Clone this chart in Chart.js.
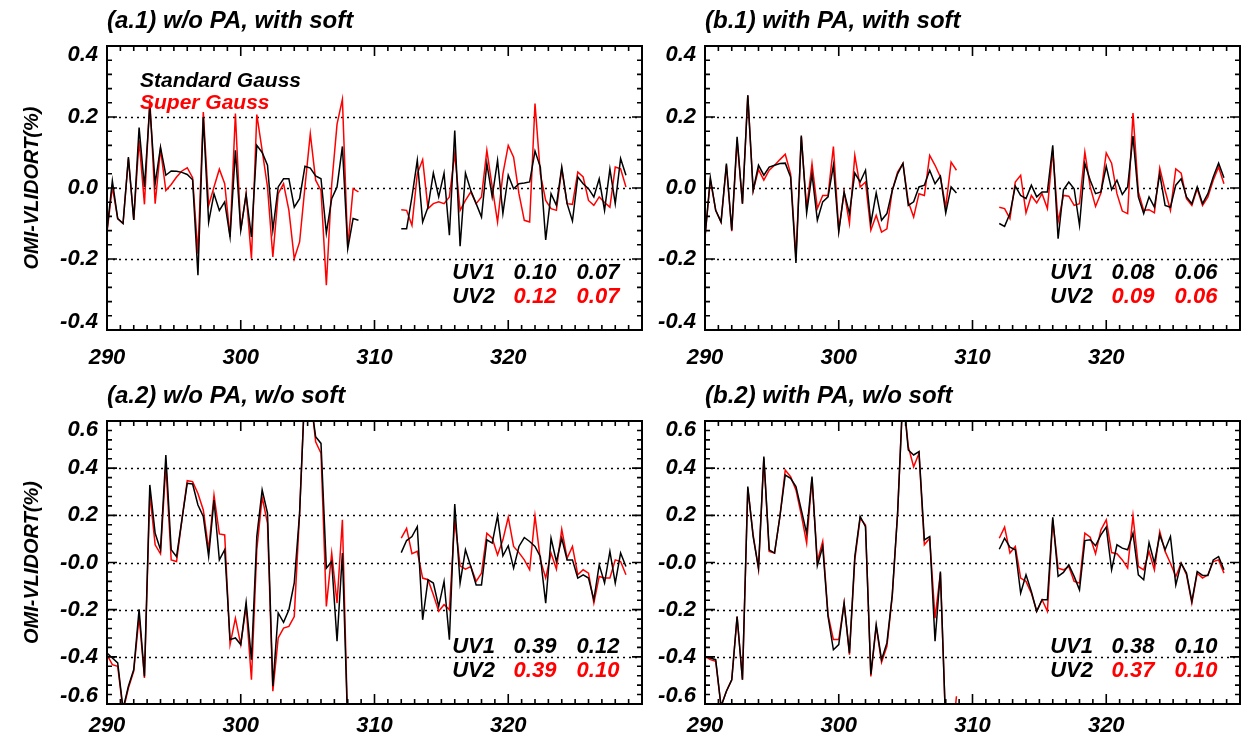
<!DOCTYPE html>
<html>
<head>
<meta charset="utf-8">
<script src="https://cdn.jsdelivr.net/npm/chart.js@4.4.1/dist/chart.umd.min.js"></script>
<style>
  html, body { margin: 0; padding: 0; background: #fff; }
  #wrap { position: relative; width: 1243px; height: 744px; overflow: hidden; background: #fff; }
  canvas { position: absolute; }
</style>
</head>
<body>
<div id="wrap">
  <canvas id="a1" width="645" height="372" style="left:0;top:0"></canvas>
  <canvas id="b1" width="643" height="372" style="left:600px;top:0"></canvas>
  <canvas id="a2" width="645" height="372" style="left:0;top:372px"></canvas>
  <canvas id="b2" width="643" height="372" style="left:600px;top:372px"></canvas>
</div>
<script>
// wavelengths (nm) of the two OMI channels
const wlUV1 = [290.0, 290.4, 290.8, 291.2, 291.6, 292.0, 292.4, 292.8, 293.2, 293.6, 294.0, 294.4,
  294.8, 295.2, 295.6, 296.0, 296.4, 296.8, 297.2, 297.6, 298.0, 298.4, 298.8, 299.2, 299.6, 300.0,
  300.4, 300.8, 301.2, 301.6, 302.0, 302.4, 302.8, 303.2, 303.6, 304.0, 304.4, 304.8, 305.2, 305.6,
  306.0, 306.4, 306.8, 307.2, 307.6, 308.0, 308.4, 308.8];
const wlUV2 = [312.0, 312.4, 312.8, 313.2, 313.6, 314.0, 314.4, 314.8, 315.2, 315.6, 316.0, 316.4,
  316.8, 317.2, 317.6, 318.0, 318.4, 318.8, 319.2, 319.6, 320.0, 320.4, 320.8, 321.2, 321.6, 322.0,
  322.4, 322.8, 323.2, 323.6, 324.0, 324.4, 324.8, 325.2, 325.6, 326.0, 326.4, 326.8, 327.2, 327.6,
  328.0, 328.4, 328.8];

// (a.1) w/o PA, with soft
const a1Std1 = [-0.12, 0.02, -0.086, -0.10, 0.087, -0.09, 0.17, 0.003, 0.23, 0.012, 0.115, 0.036, 0.048, 0.047, 0.044, 0.038, 0.023, -0.246, 0.20, -0.096, -0.016, -0.063, -0.039, -0.138, 0.106, -0.119, -0.018, -0.138, 0.12, 0.10, 0.064, -0.119, 0.003, 0.026, 0.026, -0.054, -0.03, 0.061, 0.056, 0.034, 0.026, -0.127, -0.03, 0.003, 0.117, -0.171, -0.086, -0.091];
const a1Sup1 = [-0.125, 0.003, -0.086, -0.10, 0.083, -0.09, 0.134, -0.046, 0.25, -0.044, 0.11, -0.007, 0.01, 0.031, 0.048, 0.057, 0.029, -0.185, 0.214, -0.049, 0.003, 0.053, 0.012, -0.138, 0.21, -0.119, -0.016, -0.199, 0.207, 0.106, 0.003, -0.194, -0.016, 0.012, -0.063, -0.199, -0.152, 0.003, 0.153, 0.022, -0.007, -0.274, 0.01, 0.18, 0.25, -0.166, -0.002, -0.011];
const a1Std2 = [-0.115, -0.115, -0.025, 0.078, -0.096, -0.054, 0.042, -0.025, 0.042, -0.133, 0.162, -0.164, 0.042, -0.007, -0.044, -0.082, 0.069, -0.025, 0.078, -0.072, 0.036, -0.002, 0.012, 0.014, 0.017, 0.104, 0.059, -0.146, -0.016, -0.049, 0.059, -0.044, -0.093, 0.031, 0.012, -0.002, -0.025, 0.026, -0.063, 0.054, -0.044, 0.083, 0.036];
const a1Sup2 = [-0.061, -0.063, -0.105, 0.04, 0.08, -0.058, -0.044, -0.039, -0.044, -0.025, 0.097, -0.063, -0.035, -0.011, -0.044, -0.025, 0.106, 0.003, -0.096, 0.04, 0.12, 0.087, -0.016, -0.091, -0.096, 0.238, 0.04, -0.035, -0.058, -0.063, 0.054, -0.044, -0.046, 0.045, 0.031, -0.035, -0.049, -0.025, -0.041, -0.054, 0.059, 0.054, 0.003];

// (b.1) with PA, with soft
const b1Std1 = [-0.138, 0.029, -0.063, -0.096, 0.069, -0.119, 0.144, -0.044, 0.261, -0.007, 0.064, 0.036, 0.059, 0.064, 0.069, 0.070, 0.031, -0.211, 0.148, -0.070, 0.040, -0.091, -0.039, -0.025, 0.064, -0.124, -0.011, -0.072, 0.042, 0.017, 0.050, -0.100, -0.014, -0.091, -0.072, -0.007, 0.040, 0.069, -0.049, -0.039, 0.003, 0.008, 0.050, 0.012, 0.033, -0.070, 0.003, -0.014];
const b1Sup1 = [-0.138, 0.022, -0.063, -0.096, 0.064, -0.122, 0.134, -0.044, 0.261, -0.007, 0.052, 0.022, 0.050, 0.064, 0.080, 0.095, 0.040, -0.194, 0.144, -0.058, 0.069, -0.058, -0.021, -0.021, 0.117, -0.119, -0.011, -0.100, 0.092, 0.003, 0.017, -0.119, -0.077, -0.124, -0.115, -0.007, 0.045, 0.069, -0.039, -0.082, -0.016, -0.021, 0.092, 0.064, 0.031, -0.054, 0.073, 0.050];
const b1Std2 = [-0.100, -0.108, -0.072, 0.005, -0.021, -0.030, 0.008, -0.025, -0.011, -0.011, 0.120, -0.143, -0.005, 0.017, -0.002, -0.105, 0.069, 0.022, -0.016, -0.011, 0.061, -0.005, 0.022, -0.018, 0.003, 0.146, -0.025, -0.072, -0.025, -0.054, 0.040, -0.049, -0.054, 0.008, 0.026, -0.025, -0.044, 0.003, -0.044, -0.016, 0.031, 0.070, 0.029];
const b1Sup2 = [-0.054, -0.058, -0.086, 0.017, 0.036, -0.070, -0.021, -0.042, -0.016, -0.058, 0.106, -0.096, -0.021, -0.023, -0.049, -0.044, 0.101, 0.003, -0.052, -0.014, 0.099, 0.070, -0.016, -0.065, -0.072, 0.211, -0.011, -0.063, -0.061, -0.070, 0.056, -0.007, -0.063, 0.054, 0.042, -0.030, -0.049, -0.002, -0.049, -0.025, 0.022, 0.059, 0.012];

// (a.2) w/o PA, w/o soft
const a2Std1 = [-0.384, -0.405, -0.426, -0.62, -0.525, -0.454, -0.198, -0.483, 0.329, 0.124, 0.054, 0.456, 0.054, 0.025, 0.181, 0.336, 0.333, 0.244, 0.195, 0.025, 0.265, 0.011, 0.054, -0.327, -0.32, -0.348, -0.169, -0.412, 0.11, 0.308, 0.209, -0.525, -0.214, -0.254, -0.2, -0.087, 0.209, 0.75, 0.7, 0.533, 0.505, -0.024, 0.004, -0.334, 0.04, -0.7, -0.9, -0.85];
const a2Sup1 = [-0.391, -0.433, -0.44, -0.63, -0.532, -0.461, -0.229, -0.49, 0.293, 0.075, 0.037, 0.413, 0.011, 0.004, 0.181, 0.347, 0.343, 0.293, 0.223, 0.054, 0.286, 0.121, 0.117, -0.348, -0.236, -0.348, -0.186, -0.497, 0.054, 0.277, 0.166, -0.546, -0.32, -0.278, -0.271, -0.229, 0.209, 0.75, 0.72, 0.512, 0.463, -0.186, 0.04, -0.172, 0.181, -0.7, -0.9, -0.85];
const a2Std2 = [0.042, 0.093, 0.110, 0.152, -0.243, -0.073, -0.087, -0.186, -0.080, -0.327, 0.248, -0.087, 0.054, -0.017, -0.095, -0.095, 0.096, 0.082, 0.198, 0.028, 0.071, -0.024, 0.068, 0.106, 0.089, 0.068, 0.025, -0.172, 0.103, 0.004, 0.103, 0.011, 0.011, -0.066, -0.052, -0.066, -0.158, -0.010, -0.087, 0.047, -0.087, 0.040, -0.017];
const a2Sup2 = [0.103, 0.145, 0.037, 0.047, -0.066, -0.073, -0.137, -0.207, -0.179, -0.200, 0.181, -0.014, -0.028, -0.017, -0.080, -0.045, 0.124, 0.103, 0.032, 0.096, 0.192, 0.068, 0.042, 0.011, -0.031, 0.198, 0.011, -0.066, 0.040, -0.028, 0.141, 0.018, 0.068, -0.052, -0.031, -0.045, -0.172, -0.059, -0.066, -0.066, 0.011, 0.004, -0.052];

// (b.2) with PA, w/o soft
const b2Std1 = [-0.398, -0.405, -0.412, -0.61, -0.546, -0.497, -0.229, -0.497, 0.322, 0.110, -0.024, 0.449, 0.054, 0.040, 0.195, 0.371, 0.357, 0.322, 0.223, 0.124, 0.364, -0.014, 0.068, -0.229, -0.370, -0.348, -0.172, -0.384, 0.025, 0.195, 0.152, -0.475, -0.264, -0.412, -0.341, -0.137, 0.209, 0.72, 0.477, 0.456, 0.470, 0.096, 0.110, -0.334, -0.038, -0.7, -0.9, -0.8];
const b2Sup1 = [-0.398, -0.412, -0.419, -0.61, -0.546, -0.497, -0.229, -0.497, 0.315, 0.117, -0.028, 0.442, 0.047, 0.040, 0.195, 0.392, 0.364, 0.308, 0.202, 0.082, 0.357, 0.004, 0.089, -0.222, -0.327, -0.327, -0.172, -0.391, 0.011, 0.188, 0.159, -0.483, -0.271, -0.423, -0.356, -0.144, 0.209, 0.72, 0.491, 0.406, 0.463, 0.075, 0.103, -0.236, -0.045, -0.7, -0.8, -0.567];
const b2Std2 = [0.056, 0.103, 0.065, 0.054, -0.130, -0.052, -0.123, -0.207, -0.158, -0.158, 0.192, -0.059, -0.042, -0.010, -0.059, -0.116, 0.093, 0.096, 0.071, 0.117, 0.150, -0.031, 0.075, 0.061, 0.054, 0.124, -0.052, -0.073, 0.085, -0.003, 0.117, 0.054, 0.110, -0.095, -0.003, -0.045, -0.165, -0.038, -0.055, -0.055, 0.011, 0.025, -0.031];
const b2Sup2 = [0.103, 0.150, 0.040, 0.068, -0.066, -0.080, -0.130, -0.207, -0.158, -0.207, 0.181, -0.024, -0.031, -0.017, -0.080, -0.087, 0.124, 0.107, 0.037, 0.138, 0.181, 0.042, 0.037, 0.011, -0.024, 0.198, -0.017, -0.031, 0.047, -0.031, 0.131, 0.047, -0.003, -0.059, -0.003, -0.052, -0.172, -0.045, -0.066, -0.052, 0.004, 0.011, -0.045];

// tick labels
const xTickVals = [290, 300, 310, 320];
const xTickLabels = ['290', '300', '310', '320'];
const yTicksTop = [-0.4, -0.2, 0, 0.2, 0.4];
const yLabelsTop = ['-0.4', '-0.2', '0.0', '0.2', '0.4'];
const yTicksBot = [-0.6, -0.4, -0.2, 0, 0.2, 0.4, 0.6];
const yLabelsBot = ['-0.6', '-0.4', '-0.2', '-0.0', '0.2', '0.4', '0.6'];

// statistics printed in each panel (row UV1 black, row UV2 red)
const uv1Stats = [['0.10', '0.07'], ['0.08', '0.06'], ['0.39', '0.12'], ['0.38', '0.10']];
const uv2Stats = [['0.12', '0.07'], ['0.09', '0.06'], ['0.39', '0.10'], ['0.37', '0.10']];
const seriesNames = ['Standard Gauss', 'Super Gauss'];

const FONT = '"Liberation Sans", Arial, Helvetica, sans-serif';
const BLACK = '#000000';
const RED = '#ff0000';

function joinSegments(v1, v2) {
    const pts = wlUV1.map((x, i) => ({ x: x, y: v1[i] }));
    pts.push({ x: 310.4, y: null });
    return pts.concat(wlUV2.map((x, i) => ({ x: x, y: v2[i] })));
}

// IDL-like frame: dotted grid, inward ticks, box, texts
const idlFrame = {
    id: 'idlFrame',
    beforeDatasetsDraw(chart, args, p) {
        const { ctx, chartArea: a, scales: { y } } = chart;
        ctx.save();
        ctx.strokeStyle = BLACK;
        ctx.lineWidth = 1.3;
        ctx.setLineDash([2, 4]);
        p.yTicks.slice(1, -1).forEach(v => {
            const py = Math.round(y.getPixelForValue(v)) + 0.5;
            ctx.beginPath();
            ctx.moveTo(a.left, py);
            ctx.lineTo(a.right, py);
            ctx.stroke();
        });
        ctx.restore();
    },
    afterDraw(chart, args, p) {
        const { ctx, chartArea: a, scales: { x, y } } = chart;
        ctx.save();
        ctx.strokeStyle = BLACK;
        ctx.lineWidth = 1.6;
        ctx.setLineDash([]);
        ctx.beginPath();
        for (let w = 290; w <= 330; w++) {
            const px = x.getPixelForValue(w);
            const len = w % 10 === 0 ? 10 : 5;
            ctx.moveTo(px, a.bottom); ctx.lineTo(px, a.bottom - len);
            ctx.moveTo(px, a.top); ctx.lineTo(px, a.top + len);
        }
        const n = Math.round((p.yMax - p.yMin) / 0.04);
        for (let i = 0; i <= n; i++) {
            const py = y.getPixelForValue(p.yMin + i * 0.04);
            const len = i % 5 === 0 ? 10 : 5;
            ctx.moveTo(a.left, py); ctx.lineTo(a.left + len, py);
            ctx.moveTo(a.right, py); ctx.lineTo(a.right - len, py);
        }
        ctx.stroke();
        ctx.lineWidth = 2;
        ctx.strokeRect(a.left, a.top, a.right - a.left, a.bottom - a.top);

        // y tick labels, kept inside the frame height like IDL does
        ctx.fillStyle = BLACK;
        ctx.textBaseline = 'middle';
        ctx.textAlign = 'right';
        ctx.font = 'italic bold 22px ' + FONT;
        p.yTicks.forEach((v, i) => {
            const py = Math.min(Math.max(y.getPixelForValue(v), a.top + 9), a.bottom - 8);
            ctx.fillText(p.yLabels[i], a.left - 9, py);
        });

        // panel title
        ctx.textAlign = 'left';
        ctx.font = 'italic bold 24px ' + FONT;
        ctx.fillText(p.title, a.left, a.top - 25);

        // y axis title
        if (p.yTitle) {
            ctx.save();
            ctx.translate(32 - chart.canvas.offsetLeft, (a.top + a.bottom) / 2);
            ctx.rotate(-Math.PI / 2);
            ctx.textAlign = 'center';
            ctx.font = 'italic bold 20px ' + FONT;
            ctx.fillText('OMI-VLIDORT(%)', 0, 0);
            ctx.restore();
        }

        // legend
        if (p.legend) {
            ctx.font = 'italic bold 21px ' + FONT;
            ctx.textAlign = 'left';
            ctx.fillStyle = BLACK;
            ctx.fillText(seriesNames[0], a.left + 33, a.top + 35);
            ctx.fillStyle = RED;
            ctx.fillText(seriesNames[1], a.left + 33, a.top + 57);
        }

        // UV1 / UV2 statistics
        ctx.font = 'italic bold 22px ' + FONT;
        const rows = [['UV1', uv1Stats[p.idx], BLACK, a.bottom - 57], ['UV2', uv2Stats[p.idx], RED, a.bottom - 33]];
        rows.forEach(([lab, vals, col, py]) => {
            ctx.fillStyle = BLACK;
            ctx.textAlign = 'right';
            ctx.fillText(lab, a.left + 388, py);
            ctx.fillStyle = col;
            ctx.textAlign = 'center';
            ctx.fillText(vals[0], a.left + 428, py);
            ctx.fillText(vals[1], a.left + 491, py);
        });
        ctx.restore();
    }
};

const panels = [
    { id: 'a1', idx: 0, title: '(a.1) w/o PA, with soft', std: [a1Std1, a1Std2], sup: [a1Sup1, a1Sup2],
      yMin: -0.4, yMax: 0.4, yTicks: yTicksTop, yLabels: yLabelsTop, yTitle: true, legend: true,
      yAxisW: 107, padTop: 46, padRight: 3, xAxisH: 42, xPad: 15 },
    { id: 'b1', idx: 1, title: '(b.1) with PA, with soft', std: [b1Std1, b1Std2], sup: [b1Sup1, b1Sup2],
      yMin: -0.4, yMax: 0.4, yTicks: yTicksTop, yLabels: yLabelsTop, yTitle: false, legend: false,
      yAxisW: 105, padTop: 46, padRight: 3, xAxisH: 42, xPad: 15 },
    { id: 'a2', idx: 2, title: '(a.2) w/o PA, w/o soft', std: [a2Std1, a2Std2], sup: [a2Sup1, a2Sup2],
      yMin: -0.6, yMax: 0.6, yTicks: yTicksBot, yLabels: yLabelsBot, yTitle: true, legend: false,
      yAxisW: 107, padTop: 49, padRight: 3, xAxisH: 40, xPad: 9 },
    { id: 'b2', idx: 3, title: '(b.2) with PA, w/o soft', std: [b2Std1, b2Std2], sup: [b2Sup1, b2Sup2],
      yMin: -0.6, yMax: 0.6, yTicks: yTicksBot, yLabels: yLabelsBot, yTitle: false, legend: false,
      yAxisW: 105, padTop: 49, padRight: 3, xAxisH: 40, xPad: 9 }
];

const tickFont = { family: FONT, size: 22, weight: 'bold', style: 'italic' };

panels.forEach(p => {
    const ctx = document.getElementById(p.id).getContext('2d');
    new Chart(ctx, {
        type: 'line',
        data: {
            datasets: [{
                label: seriesNames[0],
                data: joinSegments(p.std[0], p.std[1]),
                borderColor: BLACK,
                borderWidth: 1.5,
                pointRadius: 0,
                tension: 0,
                clip: 0
            }, {
                label: seriesNames[1],
                data: joinSegments(p.sup[0], p.sup[1]),
                borderColor: RED,
                borderWidth: 1.5,
                pointRadius: 0,
                tension: 0,
                clip: 0
            }]
        },
        options: {
            responsive: false,
            animation: false,
            devicePixelRatio: 1,
            layout: { padding: { top: p.padTop, right: p.padRight, left: 0, bottom: 0 } },
            plugins: {
                legend: { display: false },
                tooltip: { enabled: false },
                idlFrame: p
            },
            scales: {
                x: {
                    type: 'linear',
                    min: 290,
                    max: 330,
                    afterFit: s => { s.height = p.xAxisH; },
                    afterBuildTicks: s => { s.ticks = xTickVals.map(v => ({ value: v })); },
                    grid: { display: false, drawTicks: false },
                    border: { display: false },
                    ticks: {
                        autoSkip: false,
                        maxRotation: 0,
                        color: BLACK,
                        font: tickFont,
                        padding: p.xPad,
                        callback: (v, i) => xTickLabels[i]
                    }
                },
                y: {
                    type: 'linear',
                    min: p.yMin,
                    max: p.yMax,
                    afterFit: s => { s.width = p.yAxisW; },
                    grid: { display: false, drawTicks: false },
                    border: { display: false },
                    ticks: { display: false, stepSize: 0.2 }
                }
            }
        },
        plugins: [idlFrame]
    });
});
</script>
</body>
</html>
